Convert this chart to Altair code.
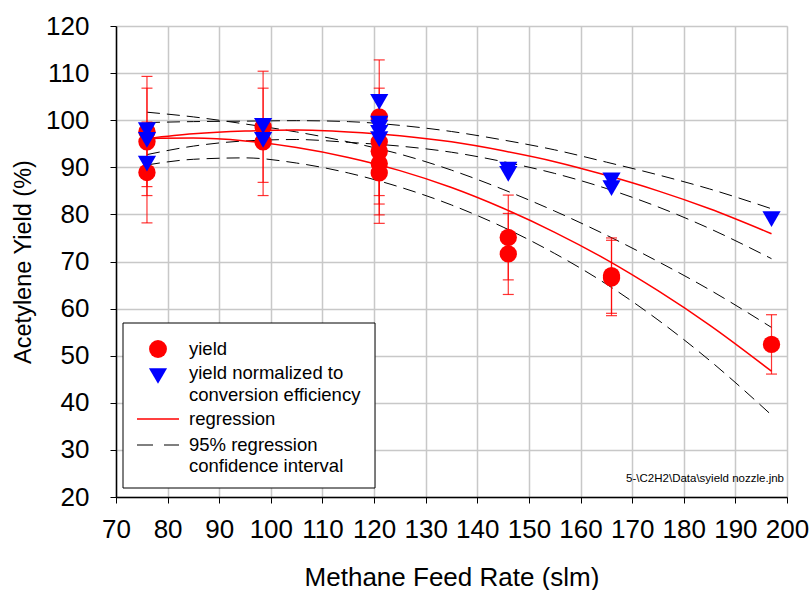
import altair as alt
import pandas as pd

# ---------------- data ----------------
feed_rate = [76, 76, 76, 98.5, 98.5, 121, 121, 121, 121, 121, 146, 146, 166, 166, 197]
yield_pct = [97.6, 95.4, 88.9, 98.6, 95.4, 100.7, 95.4, 93.4, 90.8, 88.8, 75.1, 71.6, 67.0, 66.5, 52.4]
yield_err_low = [85.9, 84.0, 78.2, 86.8, 84.0, 88.6, 84.0, 82.2, 79.9, 78.1, 66.1, 63.0, 59.0, 58.5, 46.1]
yield_err_high = [109.3, 106.8, 99.6, 110.4, 106.8, 112.8, 106.8, 104.6, 101.7, 99.5, 84.1, 80.2, 75.0, 74.5, 58.7]
yield_norm = [97.9, 95.8, 90.8, 98.8, 95.8, 103.9, 99.3, 98.4, 97.3, 96.0, 89.5, 88.6, 87.2, 85.6, 79.0]

curve_x = [76, 85, 95, 105, 115, 125, 135, 145, 155, 165, 175, 185, 197]
reg_yield = [96.1, 96.2, 95.6, 94.2, 92.1, 89.3, 85.7, 81.3, 76.2, 70.4, 63.8, 56.5, 46.7]
ci_yield_upper = [101.7, 100.7, 99.2, 97.5, 95.4, 92.8, 89.4, 85.3, 80.7, 75.6, 70.0, 64.0, 56.0]
ci_yield_lower = [90.5, 91.7, 92.0, 90.9, 88.8, 85.8, 82.0, 77.3, 71.7, 65.2, 57.6, 49.0, 37.4]
reg_norm = [96.1, 97.1, 97.7, 97.9, 97.5, 96.7, 95.4, 93.5, 91.2, 88.3, 85.0, 81.2, 75.9]
ci_norm_upper = [99.5, 99.7, 99.8, 99.9, 99.7, 98.9, 97.6, 95.8, 93.7, 91.1, 88.4, 85.4, 81.2]
ci_norm_lower = [92.7, 94.5, 95.6, 95.9, 95.3, 94.5, 93.2, 91.2, 88.7, 85.5, 81.6, 77.0, 70.6]

x_ticks = list(range(70, 201, 10))
y_ticks = list(range(20, 121, 10))

x_title = "Methane Feed Rate (slm)"
y_title = "Acetylene Yield (%)"
legend_text = ["yield", "yield normalized to", "conversion efficiency",
               "regression", "95% regression", "confidence interval"]
watermark = "5-\\C2H2\\Data\\syield nozzle.jnb"

FONT = "Liberation Sans"

# ---------------- tables ----------------
pts = pd.DataFrame({"x": feed_rate, "y": yield_pct, "lo": yield_err_low,
                    "hi": yield_err_high, "yn": yield_norm})
reg_df = pd.DataFrame({"x": curve_x * 2, "y": reg_yield + reg_norm,
                       "curve": ["yield"] * len(curve_x) + ["norm"] * len(curve_x)})
ci_df = pd.DataFrame({"x": curve_x * 4,
                      "y": ci_yield_upper + ci_yield_lower + ci_norm_upper + ci_norm_lower,
                      "curve": sum([[c] * len(curve_x) for c in ["yu", "yl", "nu", "nl"]], [])})

xscale = alt.Scale(domain=[70, 200], nice=False, zero=False)
yscale = alt.Scale(domain=[20, 120], nice=False, zero=False)

common_axis = dict(grid=True, gridColor="#c8c8c8", gridWidth=1.5,
                   tickColor="black", tickWidth=1, domainColor="black", domainWidth=1.5,
                   labelColor="black", labelFont=FONT, titleFont=FONT,
                   titleColor="black", titleFontWeight="normal",
                   labelFlush=False, labelOverlap=False)
xaxis = alt.Axis(values=x_ticks, labelFontSize=26, titleFontSize=26, tickSize=6,
                 labelPadding=13, titlePadding=22, **common_axis)
yaxis = alt.Axis(values=y_ticks, labelFontSize=26, titleFontSize=23.5, tickSize=6,
                 labelPadding=21, titlePadding=10, **common_axis)


def X(f):
    return alt.X(f, type="quantitative", scale=xscale, axis=xaxis, title=x_title)


def Y(f):
    return alt.Y(f, type="quantitative", scale=yscale, axis=yaxis, title=y_title)


ci_lines = alt.Chart(ci_df).mark_line(color="black", strokeWidth=1, strokeDash=[13, 7],
                                      interpolate="monotone").encode(
    x=X("x"), y=Y("y"), detail="curve:N")
reg_lines = alt.Chart(reg_df).mark_line(color="red", strokeWidth=1.5,
                                        interpolate="monotone").encode(
    x=X("x"), y=Y("y"), detail="curve:N")
err_rule = alt.Chart(pts).mark_rule(color="red", strokeWidth=1.2, opacity=0.8).encode(
    x=X("x"), y=Y("lo"), y2="hi:Q")
cap_lo = alt.Chart(pts).mark_tick(orient="horizontal", size=11, thickness=1.2,
                                  color="red", opacity=0.8).encode(x=X("x"), y=Y("lo"))
cap_hi = alt.Chart(pts).mark_tick(orient="horizontal", size=11, thickness=1.2,
                                  color="red", opacity=0.8).encode(x=X("x"), y=Y("hi"))
circles = alt.Chart(pts).mark_point(shape="circle", filled=True, color="red",
                                    opacity=1, size=300).encode(x=X("x"), y=Y("y"))
triangles = alt.Chart(pts).mark_point(shape="triangle-down", filled=True, color="blue",
                                      opacity=1, size=330).encode(x=X("x"), y=Y("yn"))

one = pd.DataFrame({"a": [0]})
box = alt.Chart(one).mark_rect(fill="white", stroke="black", strokeWidth=1).encode(
    x=alt.value(7), x2=alt.value(259), y=alt.value(297), y2=alt.value(462))
leg_circle = alt.Chart(one).mark_point(shape="circle", filled=True, color="red",
                                       opacity=1, size=320).encode(
    x=alt.value(42), y=alt.value(323))
leg_tri = alt.Chart(one).mark_point(shape="triangle-down", filled=True, color="blue",
                                    opacity=1, size=330).encode(
    x=alt.value(42), y=alt.value(350))
leg_red = alt.Chart(one).mark_rule(color="red", strokeWidth=1.5).encode(
    x=alt.value(21), x2=alt.value(63), y=alt.value(393))
leg_dash = alt.Chart(one).mark_rule(color="black", strokeWidth=1, strokeDash=[16, 11]).encode(
    x=alt.value(21), x2=alt.value(63), y=alt.value(419))
leg_y = [323, 347, 369, 393, 419, 440]
leg_texts = [
    alt.Chart(one).mark_text(align="left", baseline="middle", font=FONT, fontSize=18.5,
                             color="black").encode(
        x=alt.value(73), y=alt.value(yy), text=alt.value(t))
    for t, yy in zip(legend_text, leg_y)
]
wm = alt.Chart(one).mark_text(align="right", baseline="middle", font=FONT, fontSize=11.5,
                              color="black").encode(
    x=alt.value(668), y=alt.value(453), text=alt.value(watermark))

chart = alt.layer(
    ci_lines, reg_lines, err_rule, cap_lo, cap_hi, circles, triangles,
    box, leg_circle, leg_tri, leg_red, leg_dash, *leg_texts, wm
).properties(
    width=671, height=471,
    autosize=alt.AutoSizeParams(type="none"),
    padding={"left": 116, "top": 26, "right": 25, "bottom": 93},
).configure_view(stroke="black", strokeWidth=1.5).configure(background="white")

chart.save("out.html", embed_options={"renderer": "svg", "actions": False})
